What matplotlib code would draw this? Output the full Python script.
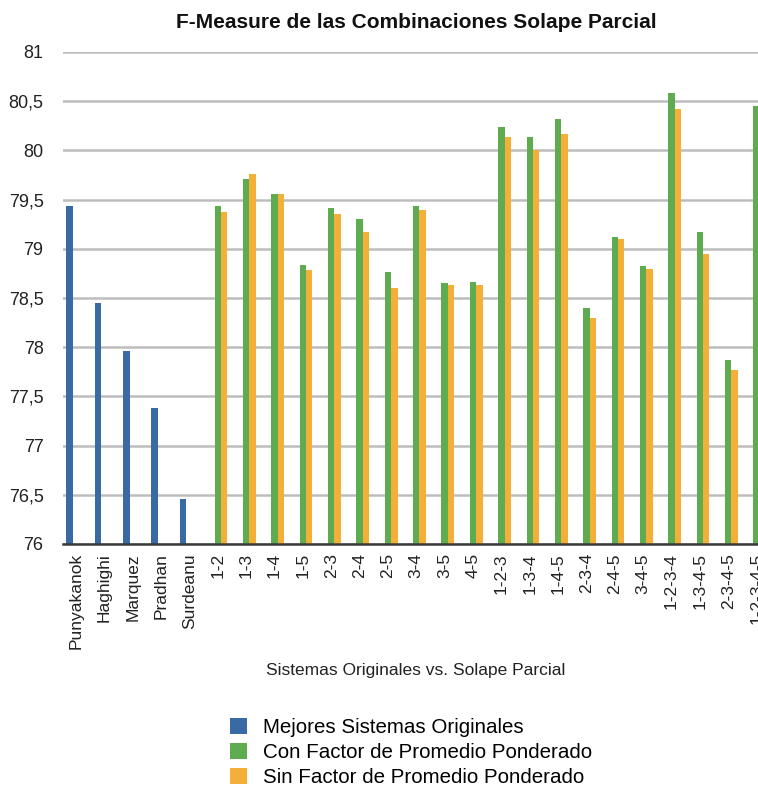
import numpy as np
import matplotlib
matplotlib.use("Agg")
import matplotlib.pyplot as plt
from matplotlib.patches import Patch

plt.rcParams['font.family'] = ['Liberation Sans', 'DejaVu Sans']

# ---- data -------------------------------------------------------------
sistemas = ["Punyakanok", "Haghighi", "Marquez", "Pradhan", "Surdeanu"]
combinaciones = ["1-2", "1-3", "1-4", "1-5", "2-3", "2-4", "2-5", "3-4", "3-5", "4-5",
                 "1-2-3", "1-3-4", "1-4-5", "2-3-4", "2-4-5", "3-4-5",
                 "1-2-3-4", "1-3-4-5", "2-3-4-5", "1-2-3-4-5"]

mejores_originales = [79.44, 78.45, 77.96, 77.38, 76.46]
con_factor = [79.44, 79.71, 79.56, 78.84, 79.41, 79.30, 78.76, 79.43, 78.65, 78.66,
              80.24, 80.14, 80.32, 78.40, 79.12, 78.83,
              80.58, 79.17, 77.87, 80.45]
sin_factor = [79.37, 79.76, 79.56, 78.78, 79.35, 79.17, 78.60, 79.39, 78.63, 78.63,
              80.14, 80.00, 80.17, 78.30, 79.10, 78.79,
              80.42, 78.95, 77.77, np.nan]

y_ticks = [76, 76.5, 77, 77.5, 78, 78.5, 79, 79.5, 80, 80.5, 81]
y_ticklabels = ["76", "76,5", "77", "77,5", "78", "78,5", "79", "79,5", "80", "80,5", "81"]

series_names = ["Mejores Sistemas Originales",
                "Con Factor de Promedio Ponderado",
                "Sin Factor de Promedio Ponderado"]
colors = ["#3A6AA4", "#5FAB50", "#F3AF37"]

# ---- layout -----------------------------------------------------------
categorias = sistemas + combinaciones
n_sis = len(sistemas)
n = len(categorias)
x = np.arange(n)

blue_vals = np.array(mejores_originales + [np.nan] * len(combinaciones))
green_vals = np.array([np.nan] * n_sis + con_factor)
orange_vals = np.array([np.nan] * n_sis + sin_factor)

W, H = 758, 787
fig = plt.figure(figsize=(W / 100, H / 100), dpi=100)
# the plot area runs slightly past the right border of the figure
ax = fig.add_axes([63 / W, (H - 544) / H, (772 - 63) / W, (544 - 52) / H])

bw = 0.225
ax.bar(x - bw, blue_vals, width=bw, color=colors[0], zorder=3)
ax.bar(x, green_vals, width=bw, color=colors[1], zorder=3)
ax.bar(x + bw, orange_vals, width=bw, color=colors[2], zorder=3)

ax.set_xlim(-0.458, n - 0.458)
ax.set_ylim(76, 81)

ax.set_yticks(y_ticks)
ax.set_yticklabels(y_ticklabels, fontsize=13, color="#222222")
ax.set_xticks(x)
ax.set_xticklabels(categorias, rotation=90, fontsize=12.5, color="#222222",
                   va="top", ha="center")
ax.tick_params(axis="y", length=0, pad=14)
ax.tick_params(axis="x", length=0, pad=6.5)

ax.yaxis.grid(True, color="#BDBDBD", linewidth=1.8, zorder=0)
ax.set_axisbelow(True)
for side in ("left", "right", "top"):
    ax.spines[side].set_visible(False)
ax.spines["bottom"].set_color("#3A3A3A")
ax.spines["bottom"].set_linewidth(1.8)
ax.spines["bottom"].set_zorder(4)

fig.text(416 / W, 1 - 22 / H, "F-Measure de las Combinaciones Solape Parcial",
         ha="center", va="center", fontsize=15, fontweight="bold", color="#111111")
fig.text(416 / W, 1 - 670 / H, "Sistemas Originales vs. Solape Parcial",
         ha="center", va="center", fontsize=12.5, color="#222222")

handles = [Patch(facecolor=c, edgecolor="none") for c in colors]
fig.legend(handles, series_names, loc="upper left",
           bbox_to_anchor=(230 / W, 1 - 718 / H), frameon=False,
           fontsize=14.8, handlelength=0.85, handleheight=0.85,
           handletextpad=0.75, labelspacing=0.27, borderpad=0, borderaxespad=0)

fig.savefig("out.png", dpi=100)
